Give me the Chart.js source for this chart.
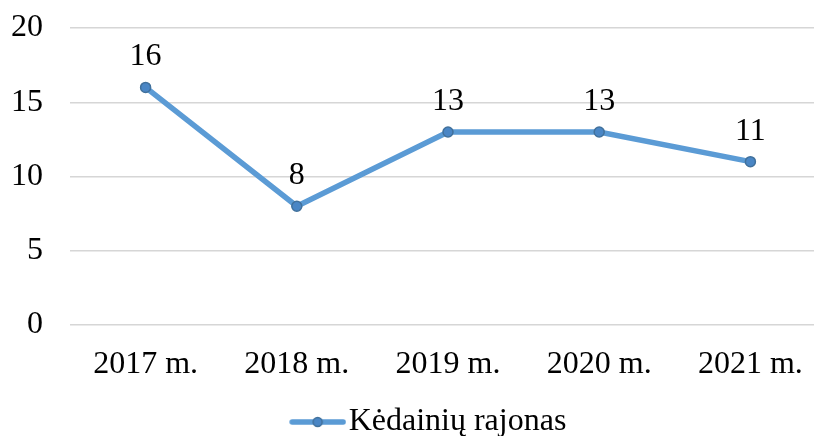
<!DOCTYPE html>
<html>
<head>
<meta charset="utf-8">
<script src="https://cdn.jsdelivr.net/npm/chart.js@4/dist/chart.umd.min.js"></script>
<style>
  html, body { margin: 0; padding: 0; background: #fff; overflow: hidden; }
  #wrap { position: relative; width: 856px; height: 436px; }
</style>
</head>
<body>
<div id="wrap"><canvas id="chart"></canvas></div>
<script>
const years = ['2017 m.', '2018 m.', '2019 m.', '2020 m.', '2021 m.'];
const kedainiai = [16, 8, 13, 13, 11];
const seriesName = 'Kėdainių rajonas';
const yTicks = [0, 5, 10, 15, 20];

const FONT = "'Liberation Serif', 'Times New Roman', serif";
const SIZE = 32;
const LINE = '#5B9BD5';

// legend marker: short line with a dot, sitting at the right side of a wider image
const marker = document.createElement('canvas');
marker.width = 90;
marker.height = 14;
const mctx = marker.getContext('2d');
mctx.strokeStyle = LINE;
mctx.lineWidth = 5.5;
mctx.lineCap = 'round';
mctx.beginPath();
mctx.moveTo(36, 7);
mctx.lineTo(87, 7);
mctx.stroke();
mctx.beginPath();
mctx.arc(61.5, 7, 4.5, 0, Math.PI * 2);
mctx.fillStyle = '#4A86C5';
mctx.fill();
mctx.lineWidth = 1.5;
mctx.strokeStyle = '#41719C';
mctx.stroke();

const valueLabels = {
  id: 'valueLabels',
  afterDatasetsDraw(chart) {
    const ctx = chart.ctx;
    const meta = chart.getDatasetMeta(0);
    ctx.save();
    ctx.font = SIZE + 'px ' + FONT;
    ctx.fillStyle = '#000';
    ctx.textAlign = 'center';
    ctx.textBaseline = 'alphabetic';
    meta.data.forEach((pt, i) => {
      ctx.fillText(String(chart.data.datasets[0].data[i]), pt.x, pt.y - 22);
    });
    ctx.restore();
  }
};

new Chart(document.getElementById('chart'), {
  type: 'line',
  data: {
    labels: years,
    datasets: [{
      label: seriesName,
      data: kedainiai,
      borderColor: LINE,
      borderWidth: 5.5,
      tension: 0,
      pointRadius: 5,
      pointBackgroundColor: '#4A86C5',
      pointBorderColor: '#41719C',
      pointBorderWidth: 1.5,
      pointStyle: 'circle'
    }]
  },
  options: {
    responsive: true,
    maintainAspectRatio: false,
    animation: false,
    layout: { padding: { left: 10, right: 30, top: 28, bottom: -12 } },
    scales: {
      x: {
        offset: true,
        grid: { display: false, drawTicks: false },
        border: { display: false },
        ticks: { color: '#000', font: { family: FONT, size: SIZE }, padding: 20, maxRotation: 0 },
        afterFit(axis) { axis.height = 81; axis.paddingLeft = 0; axis.paddingRight = 0; }
      },
      y: {
        min: 0,
        max: 20,
        afterBuildTicks(axis) { axis.ticks = yTicks.map(v => ({ value: v })); },
        grid: { color: '#D6D6D6', lineWidth: 1.5, drawTicks: false },
        border: { display: false },
        ticks: { color: '#000', font: { family: FONT, size: SIZE }, padding: 27 },
        afterFit(axis) { axis.width = 60; axis.paddingTop = 0; axis.paddingBottom = 0; }
      }
    },
    plugins: {
      tooltip: { enabled: false },
      legend: {
        position: 'bottom',
        labels: {
          color: '#000',
          font: { family: FONT, size: SIZE, lineHeight: 1 },
          usePointStyle: true,
          pointStyleWidth: 63,
          padding: 0,
          generateLabels(chart) {
            return chart.data.datasets.map((ds, i) => ({
              text: ds.label,
              pointStyle: marker,
              fillStyle: LINE,
              strokeStyle: LINE,
              lineWidth: 0,
              datasetIndex: i,
              hidden: false
            }));
          }
        }
      }
    }
  },
  plugins: [valueLabels]
});
</script>
</body>
</html>
